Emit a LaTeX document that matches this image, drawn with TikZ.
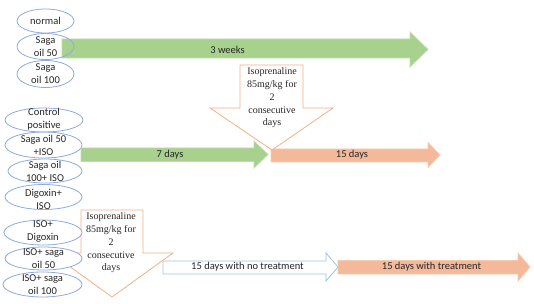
\documentclass[tikz,border=0pt]{standalone}
\usepackage{fontspec}
\setmainfont{Carlito}
\newfontfamily\timesf{Liberation Serif}
\definecolor{ellblue}{HTML}{8FAADC}
\definecolor{gfill}{HTML}{A9D18E}
\definecolor{gline}{HTML}{BFDCAA}
\definecolor{sfill}{HTML}{F4B89A}
\definecolor{sline}{HTML}{F8CBAD}
\definecolor{oline}{HTML}{F4B183}
\definecolor{bline}{HTML}{9DC3E6}
\definecolor{txt}{HTML}{262626}
\begin{document}
\begin{tikzpicture}[x=1pt,y=-1pt,
  ell/.style={draw=ellblue,line width=0.8pt},
  ellw/.style={draw=ellblue,line width=0.8pt,fill=white},
  lbl/.style={font=\fontsize{10.5}{13}\selectfont,align=center,inner sep=0pt,text=txt},
  iso/.style={font=\timesf\fontsize{10}{12.7}\selectfont,align=center,inner sep=0pt,text=txt},
  garrow/.style={fill=gfill,draw=gline,line width=0.8pt},
  sarrow/.style={fill=sfill,draw=sline,line width=0.8pt},
  darrow/.style={fill=white,draw=oline,line width=0.8pt},
  barrow/.style={fill=white,draw=bline,line width=0.8pt}]
\useasboundingbox (0,0) rectangle (534,304);

% ---------- top group ----------
\draw[garrow] (62,39) -- (410,39) -- (410,32) -- (428,49.5) -- (410,67) -- (410,58) -- (62,58) -- cycle;
\node[lbl] (w3) at (227.5,50) {3 weeks};
\draw[ell] (45.5,21) ellipse (28.5 and 12);
\node[lbl] (normal) at (45.5,21) {normal};
\draw[ell] (45.5,46.5) ellipse (28.5 and 13);
\node[lbl] (so50) at (45.5,47) {Saga\\oil 50};
\draw[ell] (45.5,74) ellipse (28.5 and 13.5);
\node[lbl] (so100) at (45.5,74) {Saga\\oil 100};

% ---------- middle group ----------
\draw[ell] (44,120) ellipse (39 and 12);
\node[lbl] (cp) at (44,119) {Control\\positive};
\draw[ell] (43.5,145) ellipse (38.5 and 13);
\node[lbl] (s50iso) at (43.5,145) {Saga oil 50\\+ISO};
\draw[ell] (45,171) ellipse (37 and 12);
\node[lbl] (s100iso) at (45,171) {Saga oil\\100+ ISO};
\draw[ell] (43.5,197) ellipse (38.5 and 12.5);
\node[lbl] (digiso) at (43.5,199) {Digoxin+\\ISO};

\draw[garrow] (81,148) -- (254,148) -- (254,141) -- (268,154.5) -- (254,168) -- (254,161.5) -- (81,161.5) -- cycle;
\node[lbl] (d7) at (170,155) {7 days};
\draw[sarrow] (271,149) -- (428,149) -- (428,142.5) -- (440,155) -- (428,167.5) -- (428,162) -- (271,162) -- cycle;
\node[lbl] (d15) at (352,155) {15 days};

\draw[darrow] (240,65) -- (303,65) -- (303,108) -- (333,108) -- (272,150) -- (210,108) -- (240,108) -- cycle;
\node[iso] (iso1) at (272,98) {Isoprenaline\\85mg/kg for\\2\\consecutive\\days};

% ---------- bottom group ----------
\draw[darrow] (81,210) -- (143,210) -- (143,253) -- (173,253) -- (112,297) -- (51,253) -- (81,253) -- cycle;
\node[iso] (iso2) at (111,243) {Isoprenaline\\85mg/kg for\\2\\consecutive\\days};

\draw[ellw] (43,232.5) ellipse (39 and 12.5);
\node[lbl] (isodig) at (43,231.5) {ISO+\\Digoxin};
\draw[ellw] (43.5,258.5) ellipse (38.5 and 11.5);
\node[lbl] (isos50) at (43.5,259) {ISO+ saga\\oil 50};
\draw[ellw] (42.5,284.5) ellipse (39.5 and 12.5);
\node[lbl] (isos100) at (42.5,284.5) {ISO+ saga\\oil 100};

\draw[barrow] (163,261) -- (326,261) -- (326,253) -- (338,267) -- (326,281) -- (326,274) -- (163,274) -- cycle;
\node[lbl] (notreat) at (247.5,267) {15 days with no treatment};
\draw[sarrow] (338,260.5) -- (518,260.5) -- (518,253) -- (530,267) -- (518,281) -- (518,274) -- (338,274) -- cycle;
\node[lbl] (treat) at (431.5,267) {15 days with treatment};
\end{tikzpicture}
\end{document}
